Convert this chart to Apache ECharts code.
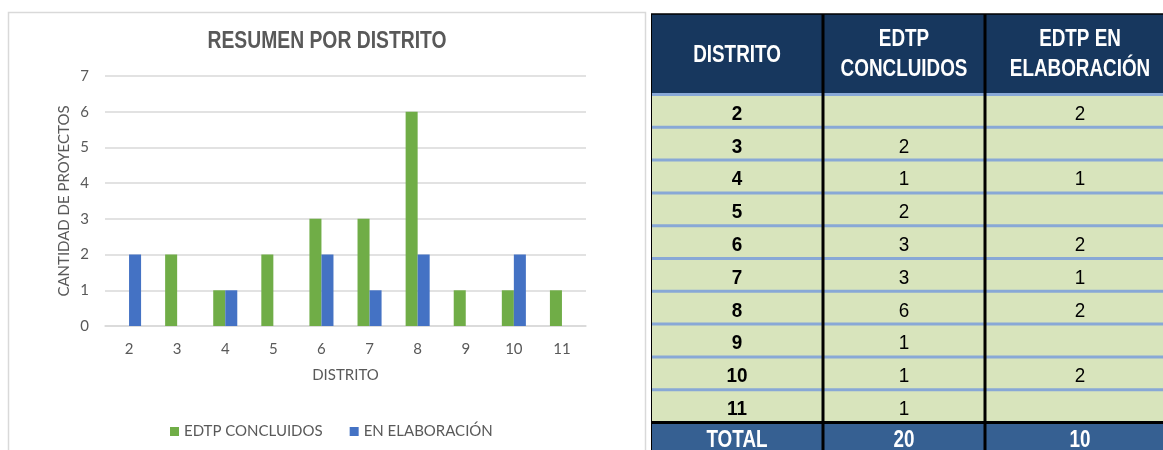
<!DOCTYPE html>
<html>
<head>
<meta charset="utf-8">
<script src="https://cdn.jsdelivr.net/npm/echarts@6/dist/echarts.min.js"></script>
<style>
    html, body { margin: 0; padding: 0; background: #ffffff; }
    #chart { width: 1163px; height: 450px; }
</style>
</head>
<body>
<div id="chart"></div>
<script>
// Data
const distritos = ['2', '3', '4', '5', '6', '7', '8', '9', '10', '11'];
const concluidos = [null, 2, 1, 2, 3, 3, 6, 1, 1, 1];
const elaboracion = [2, null, 1, null, 2, 1, 2, null, 2, null];
const seriesNames = ['EDTP CONCLUIDOS', 'EN ELABORACIÓN'];
const tableHeaders = ['DISTRITO', 'EDTP\nCONCLUIDOS', 'EDTP EN\nELABORACIÓN'];
const chartTitle = 'RESUMEN POR DISTRITO';
const totalLabel = 'TOTAL';

const COLORS = {
    green: '#70AD47',
    blue: '#4472C4',
    text: '#595959',
    grid: '#D9D9D9',
    head: '#17375E',
    total: '#366092',
    row: '#D8E4BC',
    rowLine: '#88A8D6'
};

const CHART_FONT = 'Lato';
// no Arial Narrow here: squeeze Liberation Sans horizontally instead
const NARROW = '"Liberation Sans", Arial, sans-serif';
const SQUEEZE = 0.82;

// Table layout (pixels)
const T = {
    left: 651,
    right: 1175,
    top: 14,
    headBottom: 93,
    rowTop: 94.5,
    rowH: 32.8,
    colEdges: [651, 823, 985, 1175]
};

const sum = arr => arr.reduce((a, v) => a + (v || 0), 0);

function narrowText(text, x, y, font, fill, extra, squeeze) {
    return {
        type: 'text', x: x, y: y, scaleX: squeeze || SQUEEZE,
        style: Object.assign({
            text: text, fill: fill, font: font,
            align: 'center', verticalAlign: 'middle',
            textAlign: 'center', textVerticalAlign: 'middle'
        }, extra || {})
    };
}

function buildTable() {
    const els = [];
    const colCenters = T.colEdges.slice(0, 3).map((x, i) => (x + T.colEdges[i + 1]) / 2);
    const w = T.right - T.left;

    // header
    els.push({ type: 'rect', shape: { x: T.left, y: T.top, width: w, height: T.headBottom - T.top + 1 },
        style: { fill: COLORS.head } });
    tableHeaders.forEach((h, i) => {
        els.push(narrowText(h, colCenters[i], i === 0 ? 56 : 55, 'bold 23px ' + NARROW, '#ffffff',
            { lineHeight: 30 }));
    });

    // body rows
    distritos.forEach((d, i) => {
        const y = T.rowTop + i * T.rowH;
        els.push({ type: 'rect', shape: { x: T.left, y: y, width: w, height: T.rowH },
            style: { fill: COLORS.row } });
        els.push({ type: 'rect', shape: { x: T.left, y: y - 1.5, width: w, height: 3 },
            style: { fill: COLORS.rowLine } });
        const vals = [d, concluidos[i], elaboracion[i]];
        vals.forEach((v, c) => {
            if (v === null || v === undefined) return;
            els.push(narrowText(String(v), colCenters[c], y + 19.5,
                (c === 0 ? 'bold ' : '') + '21px ' + NARROW, '#000000', null, 0.9));
        });
    });

    // total row
    const totTop = T.rowTop + distritos.length * T.rowH;
    els.push({ type: 'rect', shape: { x: T.left, y: totTop + 1.5, width: w, height: 40 },
        style: { fill: COLORS.total } });
    els.push({ type: 'rect', shape: { x: T.left, y: totTop - 1.5, width: w, height: 3 },
        style: { fill: '#000000' } });
    [totalLabel, sum(concluidos), sum(elaboracion)].forEach((v, c) => {
        els.push(narrowText(String(v), colCenters[c], totTop + 18.5, 'bold 23px ' + NARROW, '#ffffff'));
    });

    // borders
    els.push({ type: 'line', shape: { x1: T.left, y1: T.top, x2: T.right, y2: T.top },
        style: { stroke: '#000000', lineWidth: 1.5 } });
    els.push({ type: 'line', shape: { x1: T.left + 0.5, y1: T.top, x2: T.left + 0.5, y2: 460 },
        style: { stroke: '#000000', lineWidth: 1 } });
    [T.colEdges[1], T.colEdges[2]].forEach(x => {
        els.push({ type: 'rect', shape: { x: x - 1.5, y: T.top, width: 3, height: 450 },
            style: { fill: '#000000' } });
    });
    return els;
}

const chart = echarts.init(document.getElementById('chart'), null, { renderer: 'canvas' });

chart.setOption({
    animation: false,
    backgroundColor: '#ffffff',
    legend: {
        data: seriesNames,
        left: 170,
        top: 424,
        padding: 0,
        itemWidth: 9,
        itemHeight: 9,
        itemGap: 27,
        icon: 'rect',
        textStyle: { fontFamily: CHART_FONT, fontSize: 15, color: COLORS.text }
    },
    grid: {
        left: 105,
        top: 76,
        width: 481,
        height: 250,
        containLabel: false,
        outerBoundsMode: 'none'
    },
    xAxis: {
        type: 'category',
        data: distritos,
        name: 'DISTRITO',
        nameLocation: 'middle',
        nameGap: 42,
        nameTextStyle: { fontFamily: CHART_FONT, fontSize: 15, color: COLORS.text },
        axisTick: { show: false },
        axisLine: { lineStyle: { color: COLORS.grid, width: 1.5 } },
        axisLabel: { fontFamily: CHART_FONT, fontSize: 15, color: COLORS.text, margin: 16 }
    },
    yAxis: {
        type: 'value',
        min: 0,
        max: 7,
        interval: 1,
        name: 'CANTIDAD DE PROYECTOS',
        nameLocation: 'middle',
        nameGap: 33,
        nameTextStyle: { fontFamily: CHART_FONT, fontSize: 15, color: COLORS.text },
        axisLine: { show: false },
        axisTick: { show: false },
        axisLabel: { fontFamily: CHART_FONT, fontSize: 15, color: COLORS.text, margin: 16 },
        splitLine: { lineStyle: { color: COLORS.grid, width: 1.5 } }
    },
    series: [
        {
            name: seriesNames[0],
            type: 'bar',
            data: concluidos,
            barGap: '0%',
            barCategoryGap: '50%',
            itemStyle: { color: COLORS.green }
        },
        {
            name: seriesNames[1],
            type: 'bar',
            data: elaboracion,
            barGap: '0%',
            barCategoryGap: '50%',
            itemStyle: { color: COLORS.blue }
        }
    ],
    graphic: [
        {
            type: 'rect',
            silent: true,
            z: -10,
            shape: { x: 8.5, y: 12.5, width: 637, height: 460 },
            style: { fill: 'none', stroke: COLORS.grid, lineWidth: 1.5 }
        },
        Object.assign(narrowText(chartTitle, 327, 42, 'bold 23px ' + NARROW, COLORS.text, null, 0.84),
            { silent: true }),
        {
            type: 'group',
            silent: true,
            children: buildTable()
        }
    ]
});
</script>
</body>
</html>
